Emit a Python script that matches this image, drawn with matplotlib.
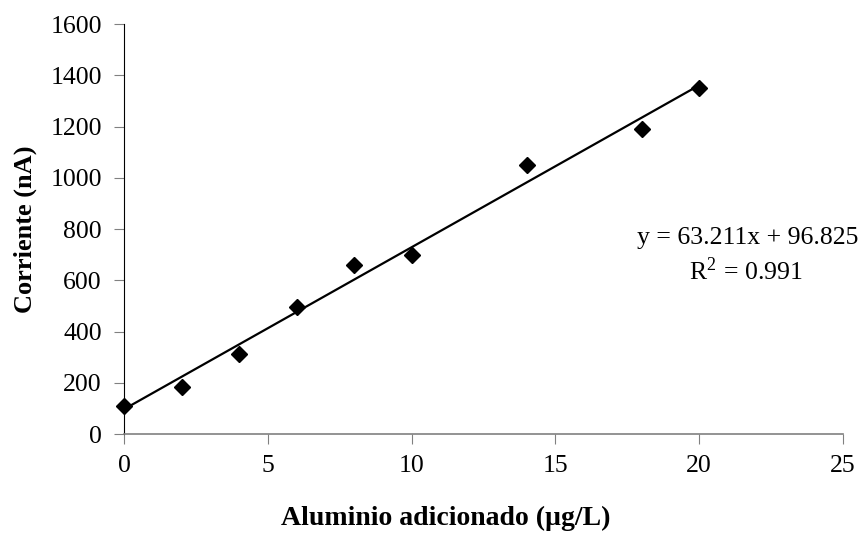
import matplotlib
matplotlib.use("Agg")
import matplotlib.pyplot as plt
import numpy as np

# data
aluminio = [0, 2, 4, 6, 8, 10, 14, 18, 20]
corriente = [110, 185, 312, 495, 660, 700, 1050, 1190, 1350]
slope = 63.211
intercept = 96.825
r2 = 0.991

plt.rcParams['font.family'] = ['Liberation Serif', 'DejaVu Serif']
plt.rcParams['mathtext.fontset'] = 'stix'

fig = plt.figure(figsize=(8.65, 5.37), dpi=100)
ax = fig.add_axes([0.1434, 0.1918, 0.8312, 0.7635])

# trend line over the data range
xl = np.array([min(aluminio), max(aluminio)])
ax.plot(xl, slope * xl + intercept, color="black", lw=1.6, zorder=2)
ax.plot(aluminio, corriente, "D", color="black", ms=8, zorder=3, clip_on=False)

ax.set_xlim(0, 25)
ax.set_ylim(0, 1600)
ax.set_xticks(range(0, 26, 5))
ax.set_yticks(range(0, 1601, 200))

ax.spines["top"].set_visible(False)
ax.spines["right"].set_visible(False)
ax.spines["left"].set_color("black")
ax.spines["bottom"].set_color("#808080")
ax.spines["bottom"].set_linewidth(1.2)
ax.tick_params(axis="x", direction="out", length=7, colors="#808080", labelcolor="black",
               labelsize=18.5, pad=8)
ax.tick_params(axis="y", direction="out", length=7, colors="#808080", labelcolor="black",
               labelsize=18.5, pad=9)

ax.set_xlabel("Aluminio adicionado (µg/L)", fontsize=20, fontweight="bold", va="top")
ax.xaxis.set_label_coords(0.448, -0.175)
ax.set_ylabel("Corriente (nA)", fontsize=19, fontweight="bold")
ax.yaxis.set_label_coords(-0.121, 0.5)

fig.text(0.992, 0.557, "y = %.3fx + %.3f" % (slope, intercept), ha="right", va="center",
         fontsize=18.5)
fig.text(0.862, 0.495, "R$^\\mathregular{2}$ = %.3f" % r2, ha="center", va="center",
         fontsize=18.5)

fig.savefig("out.png", dpi=100)
